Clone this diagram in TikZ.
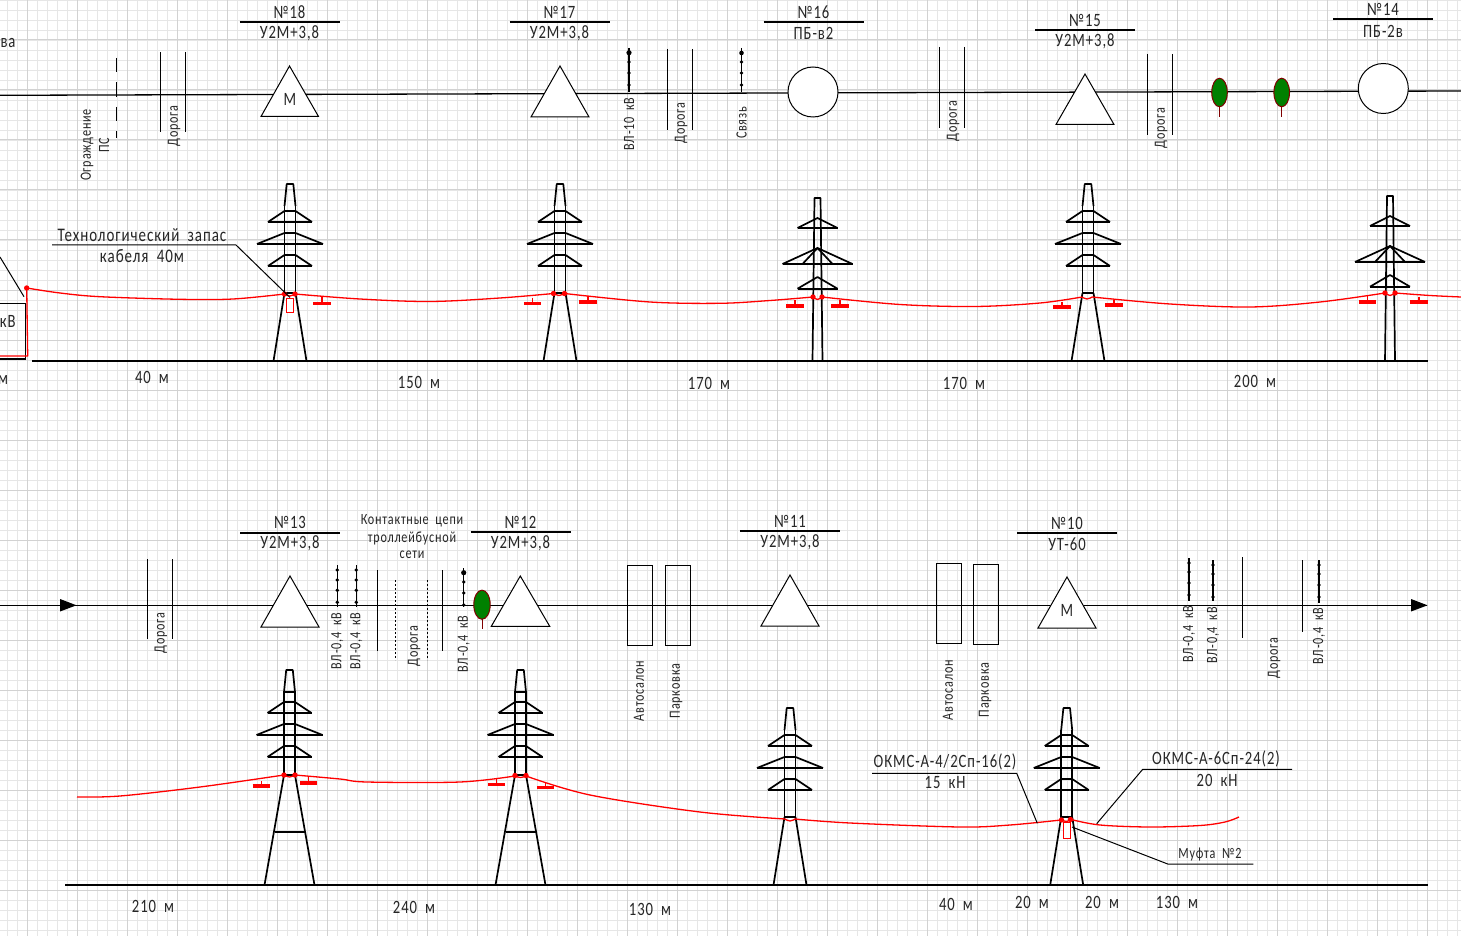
\documentclass[tikz,border=0pt]{standalone}
\usepackage{fontspec}
\setmainfont{Carlito}[LetterSpace=5,FakeStretch=0.78,WordSpace=1.9]
\newcommand{\fsA}{\fontsize{9.6pt}{10pt}\selectfont}
\newcommand{\fsB}{\fontsize{9.4pt}{10pt}\selectfont}
\newcommand{\fsC}{\fontsize{7.8pt}{8pt}\selectfont}
\definecolor{gmin}{HTML}{E6E6E6}
\definecolor{gmaj}{HTML}{D2D2D2}
\definecolor{trg}{HTML}{008000}
\definecolor{trb}{HTML}{800000}
\tikzset{
 lab/.style={inner sep=0pt,font=\fsA,text=black!85},
 mid/.style={inner sep=0pt,font=\fsB,text=black!85},
 sml/.style={inner sep=0pt,font=\fsC,text=black!85},
 vert/.style={inner sep=0pt,font=\fsC,rotate=90,text=black!85},
 thinl/.style={line width=.5pt,black},
 schem/.style={line width=.65pt,black},
 twr/.style={line width=.85pt,black,line join=round},
 ground/.style={line width=1pt,black},
 cable/.style={line width=.65pt,red},
 sym/.style={line width=.5pt,black,fill=white},
 wood/.style={line width=.5pt,trb,fill=trg},
}
\newcommand{\towerU}[6]{% name,cx,top,armshift,H,legs
\begin{scope}[shift={(#2,#3)}]
\pgfmathsetmacro{\a}{#4}
\pgfmathsetmacro{\be}{#4>0?105:109}
\draw[twr] (-5.5,22)--(-3.3,0)--(3.3,0)--(5.5,22);
\draw[twr] (-5.5,22)--(-5.5,\be) (5.5,22)--(5.5,\be);
\draw[twr] (-5.5,\be)--(5.5,\be);
\draw[twr] (-5.5,\be)--(-#6,#5) (5.5,\be)--(#6,#5);
\ifnum#4>0 \draw[twr] (-5.5,22)--(5.5,22); \draw[line width=.65pt] (-15,162)--(15,162);\fi
\foreach \y/\w in {27/22,49/33,71/22}{
 \draw[twr] (-5.5,\y+\a)--(5.5,\y+\a);
 \draw[twr] (-\w,\y+\a+11)--(\w,\y+\a+11);
 \draw[twr] (-\w,\y+\a+11)--(-5.5,\y+\a) (\w,\y+\a+11)--(5.5,\y+\a);
}
\coordinate (#1) at (0,0);
\end{scope}}
\newcommand{\towerP}[4]{% name,cx,top,H
\begin{scope}[shift={(#2,#3)}]
\draw[twr] (-5,#4)--(-3,0)--(3,0)--(5,#4);
\foreach \y/\b/\w in {20/30/20,50/66/35,79/90.7/20}{
 \draw[twr] (-\w,\b)--(\w,\b);
 \draw[twr] (-\w,\b)--(0,\y)--(\w,\b);
}
\draw[twr] (-15,66)--(0,50)--(15,66);
\coordinate (#1) at (0,0);
\end{scope}}
\newcommand{\insul}[3]{% x,stem top,bar y
\draw[line width=.6pt,red] (#1,#2)--(#1,#3);
\draw[line width=1.8pt,red] (#1-8.7,#3)--(#1+8.7,#3);}
\newcommand{\rdot}[2]{\fill[red] (#1,#2) circle[radius=2.7];}
\newcommand{\titled}[8]{% name,x,y top text,line y,y lower,num,type,half
\node[mid] (#1n) at (#2,#3) {#6};
\node[mid] (#1t) at (#2,#5) {#7};
\coordinate (#1l) at ($(#2,#4)+(-50,0)$);
\coordinate (#1r) at ($(#2,#4)+(50,0)$);
\draw[line width=.55pt] (#1l)--(#1r);}
\newcommand{\vl}[7]{% name,x,top,bottom,text y,text,dots
\coordinate (#1a) at (#2,#3); \coordinate (#1b) at (#2,#4);
\draw[line width=.55pt] (#1a)--(#1b);
\foreach \d in {#7}{\fill (#2,\d) circle[radius=1.9];}
\node[vert] (#1x) at (#2,#5) {#6};}
\newcommand{\pair}[6]{% name,x1,x2,top,bottom ; road
\coordinate (#1a) at (#2,#4); \coordinate (#1b) at (#2,#5);
\coordinate (#1c) at (#3,#4); \coordinate (#1d) at (#3,#5);
\draw[line width=.55pt] (#1a)--(#1b) (#1c)--(#1d);}
\usetikzlibrary{calc}
\begin{document}
\begin{tikzpicture}[x=0.5pt,y=-0.5pt]
\useasboundingbox (0,0) rectangle (1461,936);
\clip (0,0) rectangle (1461,936);
\fill[white] (0,0) rectangle (1461,936);
% grid
\foreach \x in {7,17,...,1457}{\draw[gmin,line width=.45pt] (\x,0)--(\x,936);}
\foreach \y in {0,10,...,930}{\draw[gmin,line width=.45pt] (0,\y)--(1461,\y);}
\foreach \x in {27,77,...,1457}{\draw[gmaj,line width=.5pt] (\x,0)--(\x,936);}
\foreach \y in {40,90,...,890}{\draw[gmaj,line width=.5pt] (0,\y)--(1461,\y);}
% ---------- row 1 plan
\coordinate (planL) at (0,95.3); \coordinate (planR) at (1461,91);
\draw[schem] (planL)--(planR);
\node[mid] (vaTxt) at (8,43) {ва};
\coordinate (fa) at (116.5,58); \coordinate (fb) at (116.5,138);
\draw[line width=.55pt,dash pattern=on 7.2pt off 5pt] (fa)--(fb);
\node[vert] (f1) at (87,145) {Ограждение};
\node[vert] (f2) at (104,145) {ПС};
\pair{r1}{160.5}{185.5}{52}{132}{}
\node[vert] (r1x) at (174,126) {Дорога};
\vl{vl1}{629}{48}{92}{124}{ВЛ-10 кВ}{62,73,85}
\fill (629,52.7) circle[radius=2.6];
\pair{r2}{667.5}{692.5}{49}{130}{}
\node[vert] (r2x) at (681,123) {Дорога};
\vl{sv}{741.5}{48}{92}{123}{Связь}{62,73,85}
\fill (741.5,53) circle[radius=2.3];
\pair{r3}{939.5}{964.5}{47}{128}{}
\node[vert] (r3x) at (953,121) {Дорога};
\pair{r4}{1147.5}{1172.5}{54}{135}{}
\node[vert] (r4x) at (1161,128) {Дорога};
\draw[line width=.5pt,trb] (1219.5,106)--(1219.5,116.7) (1281.7,106)--(1281.7,116.7);
\filldraw[wood] (1219.5,92.5) ellipse[x radius=7.8,y radius=14.3];
\filldraw[wood] (1281.7,92.5) ellipse[x radius=7.8,y radius=14.3];
\draw[sym] (289.5,66)--(318.5,116.5)--(261,116.5)--cycle;
\node[mid] (mA) at (290,99) {М};
\draw[sym] (560,66)--(589,117)--(531,117)--cycle;
\draw[sym] (1085,74)--(1114,124.5)--(1056,124.5)--cycle;
\draw[sym] (813,92) circle[radius=25];
\draw[sym] (1383.3,88.5) circle[radius=25];
\titled{t18}{289.5}{12}{22}{33}{№18}{У2М+3,8}{}
\titled{t17}{559.5}{12}{22}{33}{№17}{У2М+3,8}{}
\titled{t16}{813.5}{12}{22}{33}{№16}{ПБ-в2}{}
\titled{t15}{1085}{20}{30}{41}{№15}{У2М+3,8}{}
\titled{t14}{1383}{9}{19}{31}{№14}{ПБ-2в}{}
% ---------- row 1 profile
\towerU{T18}{290}{184}{0}{177}{16.5}
\towerU{T17}{560}{184}{0}{177}{16.5}
\towerP{T16}{817.5}{198}{163}
\towerU{T15}{1088}{184}{0}{177}{16.5}
\towerP{T14}{1390}{196}{165}
\coordinate (gA) at (32,361); \coordinate (gB) at (1428,361);
\draw[ground] (gA)--(gB);
\draw[line width=.8pt] (0,303.3)--(25.3,303.3)--(25.3,359)--(0,359);
\node[mid,anchor=east] (kv) at (16,321.5) {кВ};
\coordinate (bx) at (24,296.7); \coordinate (bxl) at (0,257);
\draw[thinl] (bx)--(bxl);
\draw[cable,line join=round] (0,356)--(27.7,356)--(26.7,288);
\draw[cable] plot[smooth,tension=.55] coordinates {(26.7,288)(60,293)(100,296.7)(180,299.3)(233,299)(284.5,294)};
\draw[cable] plot[smooth,tension=.8] coordinates {(284.5,294)(290,296)(295,294)};
\draw[cable] plot[smooth,tension=.55] coordinates {(295,294)(360,299)(430,301.5)(500,298)(553.5,293.5)};
\draw[cable] plot[smooth,tension=.8] coordinates {(553.5,293.5)(559,295.5)(564.5,293.5)};
\draw[cable] plot[smooth,tension=.55] coordinates {(564.5,293.5)(650,302)(720,303.3)(770,300.5)(813,297)};
\draw[cable] plot[smooth,tension=.8] coordinates {(813,297)(817.5,299.5)(822,297)};
\draw[cable] plot[smooth,tension=.55] coordinates {(822,297)(900,304.5)(975,306.5)(1040,303)(1082,297)};
\draw[cable] plot[smooth,tension=.8] coordinates {(1082,297)(1087,299)(1092,297)};
\draw[cable] plot[smooth,tension=.55] coordinates {(1092,297)(1170,304)(1250,307)(1320,302)(1385,293)};
\draw[cable] plot[smooth,tension=.8] coordinates {(1385,293)(1390,295.5)(1395,293)};
\draw[cable] plot[smooth,tension=.55] coordinates {(1395,293)(1430,295.5)(1461,297)};
\rdot{26.7}{288}\rdot{284.5}{294}\rdot{295}{294}\rdot{553.5}{293.5}\rdot{564.5}{293.5}
\rdot{813}{297}\rdot{822}{297}\rdot{1385}{293}\rdot{1395}{293}
\insul{322}{297}{303.3}\insul{532.5}{297.5}{303.5}\insul{588}{296}{302}
\insul{795}{300}{305.7}\insul{840}{300}{305.7}
\insul{1062}{301.5}{307}\insul{1114}{299.5}{305}
\insul{1367.5}{296}{302}\insul{1419}{296.5}{302}
\node[draw=red,line width=.5pt,fill=white,minimum width=3.7pt,minimum height=7.3pt,inner sep=0pt] (m1) at (290,305.3) {};
\node[lab] (zap) at (142,235) {Технологический запас};
\node[lab] (zap2) at (142,256) {кабеля 40м};
\coordinate (zl) at (52,245); \coordinate (zr) at (236,245);
\draw[thinl] (zl)--(zr)--(m1.north);
\foreach \n/\x/\y/\t in {d0/3/380/м,d1/152/377/40 м,d2/419/382/150 м,d3/709/383/170 м,d4/964/383/170 м,d5/1255/381/200 м,
 d6/153/906/210 м,d7/414/907/240 м,d8/650/909/130 м,d9/956/904/40 м,d10/1032/902/20 м,d11/1102/902/20 м,d12/1177/902/130 м}
 {\node[mid] (\n) at (\x,\y) {\t};}
% ---------- row 2 plan
\coordinate (planL2) at (0,605.3); \coordinate (planR2) at (1427,605.3);
\draw[schem] (planL2)--(planR2);
\fill (60,599)--(76.5,605.3)--(60,611.5)--cycle;
\fill (1411,599)--(1427.5,605.3)--(1411,611.5)--cycle;
\pair{r5}{147.5}{172.5}{559}{639}{}
\node[vert] (r5x) at (161,633) {Дорога};
\vl{v1}{337.3}{565}{607}{641}{ВЛ-0,4 кВ}{570,580,590.3,602.3}
\vl{v2}{356.3}{565}{607}{641}{ВЛ-0,4 кВ}{570,580,590.3,602.3}
\pair{k1}{377.3}{442.3}{570}{650.7}{}
\coordinate (k2a) at (395.3,580); \coordinate (k2b) at (395.3,660);
\coordinate (k3a) at (427.3,580); \coordinate (k3b) at (427.3,660);
\draw[line width=.4pt,dash pattern=on 1.2pt off .8pt] (k2a)--(k2b) (k3a)--(k3b);
\node[vert] (r6x) at (414,646) {Дорога};
\node[sml] (kc1) at (412,521) {Контактные цепи};
\node[sml] (kc2) at (412,538) {троллейбусной};
\node[sml] (kc3) at (412,555) {сети};
\vl{v3}{463.7}{568}{607}{644}{ВЛ-0,4 кВ}{582,593,605}
\fill (463.7,572.7) circle[radius=2.6];
\draw[line width=.5pt,trb] (482,619)--(482,629);
\filldraw[wood] (482,604.7) ellipse[x radius=8.2,y radius=14.6];
\draw[sym] (520.3,576)--(549.7,626.3)--(491.3,626.3)--cycle;
\draw[sym] (290,576)--(319,627)--(261,627)--cycle;
\draw[sym] (790,575)--(819,626)--(761,626)--cycle;
\draw[sym] (1067,577)--(1096,628)--(1038,628)--cycle;
\node[mid] (mB) at (1067,610) {М};
\draw[line width=.45pt] (627.5,565.5) rectangle (652.5,645.5);
\draw[line width=.45pt] (665.5,565.5) rectangle (690.5,645.5);
\draw[line width=.45pt] (936.5,563.5) rectangle (961.5,643.5);
\draw[line width=.45pt] (973.5,564.5) rectangle (998.5,644.5);
\node[vert] (a1) at (639,691) {Автосалон};
\node[vert] (p1) at (676,691) {Парковка};
\node[vert] (a2) at (948,690) {Автосалон};
\node[vert] (p2) at (985,690) {Парковка};
\vl{v4}{1189}{558}{601}{634}{ВЛ-0,4 кВ}{563,572,583,595}
\vl{v5}{1213}{560}{601}{635.5}{ВЛ-0,4 кВ}{565,574,585,597}
\coordinate (s1a) at (1242.5,557); \coordinate (s1b) at (1242.5,638);
\draw[line width=.55pt] (s1a)--(s1b);
\node[vert] (r7x) at (1274,658) {Дорога};
\coordinate (s2a) at (1302.5,560); \coordinate (s2b) at (1302.5,632);
\draw[line width=.55pt] (s2a)--(s2b);
\vl{v6}{1319}{560}{603}{636}{ВЛ-0,4 кВ}{565,574,585,597}
\titled{t13}{290}{522}{533}{543}{№13}{У2М+3,8}{}
\titled{t12}{520.5}{522}{532}{543}{№12}{У2М+3,8}{}
\titled{t11}{790}{521}{531}{542}{№11}{У2М+3,8}{}
\titled{t10}{1067}{523}{533}{544}{№10}{УТ-60}{}
% ---------- row 2 profile
\towerU{T13}{289.5}{670}{5}{215}{25}
\towerU{T12}{520.5}{670}{5}{215}{25}
\towerU{T11}{790}{708}{0}{177}{16.5}
\towerU{T10}{1066.7}{708}{0}{177}{16.5}
\coordinate (gC) at (65,885); \coordinate (gD) at (1428,885);
\draw[ground] (gC)--(gD);
\draw[cable] plot[smooth,tension=.55] coordinates {(77,797)(120,796)(200,787)(284,775)};
\draw[cable] plot[smooth,tension=.8] coordinates {(284,775)(289.5,777)(295,775)};
\draw[cable] plot[smooth,tension=.55] coordinates {(295,775)(340,779)(367,782)(460,782)(515,776)};
\draw[cable] plot[smooth,tension=.8] coordinates {(515,776)(520.5,777.5)(526,776)};
\draw[cable] plot[smooth,tension=.55] coordinates {(526,776)(590,795)(700,812)(785,819)};
\draw[cable] plot[smooth,tension=.8] coordinates {(785,819)(790,821)(795,819)};
\draw[cable] plot[smooth,tension=.55] coordinates {(795,819)(850,823)(960,827)(1010,825)(1061,820)};
\draw[cable] plot[smooth,tension=.8] coordinates {(1061,820)(1066.5,821.5)(1071,819.5)};
\draw[cable] plot[smooth,tension=.55] coordinates {(1071,819.5)(1100,825)(1150,827)(1200,825.5)(1225,822)(1239,817)};
\rdot{284}{775}\rdot{295}{775}\rdot{515}{775.5}\rdot{526}{775.5}\rdot{1061.5}{820}\rdot{1070.5}{819.5}
\insul{261.3}{781}{786}\insul{308.7}{777}{782.7}\insul{496.7}{779}{784.3}\insul{545.6}{781.5}{787.3}
\node[draw=red,line width=.5pt,fill=white,minimum width=3.7pt,minimum height=7.8pt,inner sep=0pt] (m2) at (1067,830.5) {};
\coordinate (ma) at (1072,827);
\coordinate (mb) at (1167.7,864); \coordinate (mc) at (1253.3,864);
\draw[thinl] (ma)--(mb)--(mc);
\node[sml] (muf) at (1210,855) {Муфта №2};
\node[mid] (ok1) at (945,762) {ОКМС-А-4/2Сп-16(2)};
\node[mid] (ok1k) at (945,783) {15 кН};
\coordinate (o1a) at (872,773.3); \coordinate (o1b) at (1016.7,773.3); \coordinate (o1c) at (1037.3,823.3);
\draw[thinl] (o1a)--(o1b)--(o1c);
\node[mid] (ok2) at (1216,759) {ОКМС-А-6Сп-24(2)};
\node[mid] (ok2k) at (1217,780) {20 кН};
\coordinate (o2a) at (1292,769.3); \coordinate (o2b) at (1142.7,769.3); \coordinate (o2c) at (1096.7,823.7);
\draw[thinl] (o2a)--(o2b)--(o2c);
\end{tikzpicture}
\end{document}
